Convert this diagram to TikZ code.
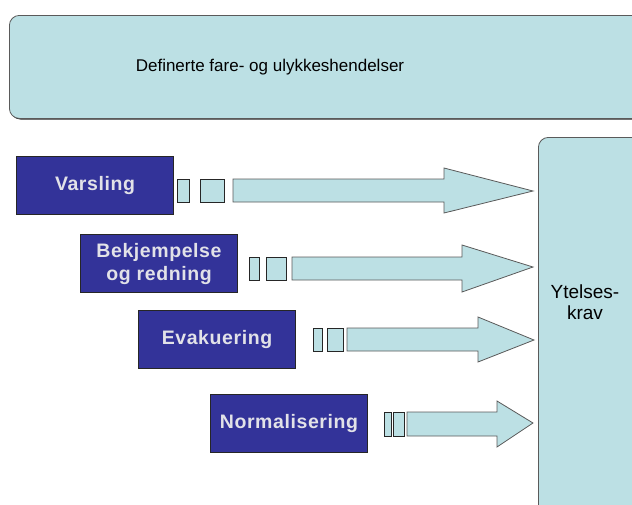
\documentclass[tikz,border=0pt]{standalone}
\usepackage{fontspec}
\setmainfont{Liberation Sans}
\usetikzlibrary{calc}
\definecolor{pale}{RGB}{188,224,228}
\definecolor{navy}{RGB}{51,51,153}
\definecolor{boxtext}{RGB}{226,226,232}
\definecolor{edge}{RGB}{90,90,90}
\tikzset{
  panel/.style={draw=edge, line width=0.8pt, fill=pale, rounded corners=10pt, inner sep=0pt},
  panelshadow/.style={fill=black!85, rounded corners=10pt},
  taskbox/.style={draw=black!85, line width=1pt, fill=navy, text=boxtext, font=\bfseries\fontsize{19.5}{23}\selectfont\addfontfeatures{LetterSpace=3}, minimum width=157pt, minimum height=58pt, inner sep=0pt, align=center},
  flow/.style={draw=edge, line width=0.8pt, fill=pale, line join=miter},
  bit/.style={draw=black!85, line width=0.9pt, fill=pale}
}
\begin{document}
\begin{tikzpicture}[x=1pt,y=-1pt]
\useasboundingbox (0,0) rectangle (632,504);
\clip (0,0) rectangle (632,504);
% top panel
\fill[panelshadow] (10.5,16.5) rectangle (652,119.5);
\node[panel, minimum width=650pt, minimum height=103pt, anchor=north west] (top) at (9,15) {};
\node[font=\fontsize{17}{20}\selectfont] (toptext) at (270,67) {Definerte fare- og ulykkeshendelser};
% right panel
\fill[panelshadow] (539.5,138.5) rectangle (660,540);
\node[panel, minimum width=120pt, minimum height=400pt, anchor=north west] (ytelse) at (538,137) {};
\node[font=\fontsize{19}{21}\selectfont, align=center] (ytext) at (585,302) {Ytelses-\\krav};
% task boxes
\node[taskbox, anchor=north west] (varsling) at (16,156) {Varsling};
\node[taskbox, anchor=north west] (bekj) at (80,234) {Bekjempelse\\og redning};
\node[taskbox, anchor=north west] (evak) at (138,310) {Evakuering};
\node[taskbox, anchor=north west] (norm) at (210,394) {Normalisering};
% tips
\coordinate (t1) at (533,191);
\coordinate (t2) at (533,267);
\coordinate (t3) at (534,340);
\coordinate (t4) at (533,423);
% arrow 1
\draw[bit] (177.5,179) rectangle (189,202);
\draw[bit] (200,179) rectangle (224,202);
\draw[flow] (233,179) -- (444,179) -- (444,168) -- (t1) -- (444,213) -- (444,202) -- (233,202) -- cycle;
% arrow 2
\draw[bit] (249,257) rectangle (259,280);
\draw[bit] (266,257) rectangle (286,280);
\draw[flow] (292,257) -- (462,257) -- (462,245) -- (t2) -- (462,292) -- (462,280) -- (292,280) -- cycle;
% arrow 3
\draw[bit] (313,328) rectangle (322,351);
\draw[bit] (327,328) rectangle (343,351);
\draw[flow] (347,328) -- (478,328) -- (478,317) -- (t3) -- (478,362) -- (478,351) -- (347,351) -- cycle;
% arrow 4
\draw[bit] (384,412) rectangle (391,436);
\draw[bit] (393,412) rectangle (404,436);
\draw[flow] (407,412) -- (497,412) -- (497,401) -- (t4) -- (497,447) -- (497,436) -- (407,436) -- cycle;
\end{tikzpicture}
\end{document}
